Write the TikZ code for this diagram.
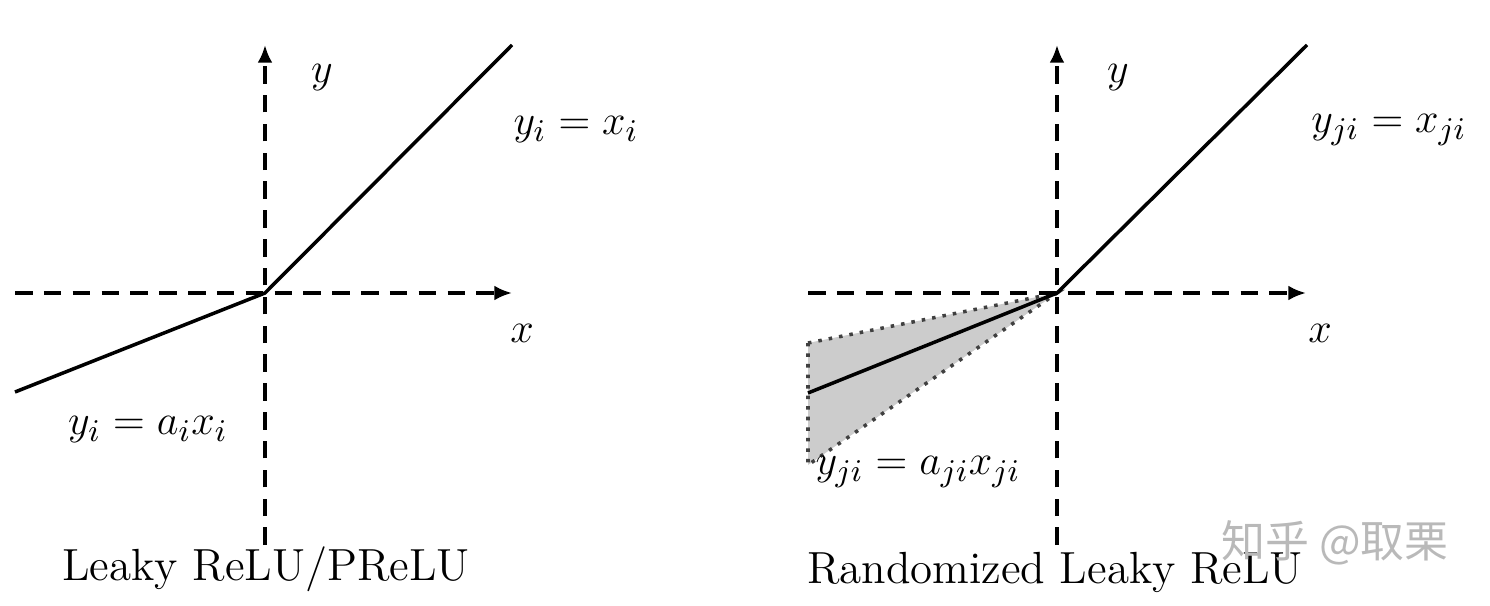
\documentclass[tikz,border=0pt]{standalone}
\usepackage{amsmath}
\usepackage{fontspec}
\newfontfamily\cjkfont{Noto Sans CJK SC}
\usetikzlibrary{arrows.meta}

\begin{document}
\begin{tikzpicture}[x=0.01cm, y=-0.01cm,
  axis/.style={line width=0.9pt, dash pattern=on 5pt off 3.2pt,
               -{Latex[length=5pt,width=4.2pt]}},
  curve/.style={line width=1pt},
  band/.style={fill=gray!40, draw=black!75, dotted, line width=1pt},
  lbl/.style={font=\fontsize{12.5}{15}\selectfont, inner sep=0pt},
  capt/.style={font=\fontsize{12.8}{15}\selectfont, inner sep=0pt},
  wm/.style={font=\cjkfont\fontsize{12.5}{15}\selectfont, gray!55, inner sep=0pt}
]
\useasboundingbox (0,0) rectangle (1490,606);
% ---------------- Leaky ReLU / PReLU ----------------
\coordinate (o1) at (265,293);
\coordinate (xl1) at (15,293);
\coordinate (xr1) at (512,293);
\coordinate (yb1) at (265,545);
\coordinate (yt1) at (265,45);
\coordinate (neg1) at (15,392);
\coordinate (pos1) at (512,45);
\draw[axis] (xl1) -- (xr1);
\draw[axis] (yb1) -- (yt1);
\draw[curve] (neg1) -- (o1) -- (pos1);
\node[lbl] (ylab1) at (322,78) {$y$};
\node[lbl] (xlab1) at (522,333) {$x$};
\node[lbl] (pfun1) at (576,130) {$y_i = x_i$};
\node[lbl] (nfun1) at (148,430) {$y_i = a_i x_i$};
\node[capt] (cap1) at (266,569) {Leaky ReLU/PReLU};
% ---------------- Randomized Leaky ReLU ----------------
\coordinate (o2) at (1057,293);
\coordinate (xl2) at (808,293);
\coordinate (xr2) at (1306,293);
\coordinate (yb2) at (1057,545);
\coordinate (yt2) at (1057,45);
\coordinate (bhi) at (808,343);
\coordinate (blo) at (808,465);
\coordinate (neg2) at (808,393);
\coordinate (pos2) at (1307,45);
\draw[band] (bhi) -- (o2) -- (blo) -- cycle;
\draw[axis] (xl2) -- (xr2);
\draw[axis] (yb2) -- (yt2);
\draw[curve] (neg2) -- (o2) -- (pos2);
\node[lbl] (ylab2) at (1118,78) {$y$};
\node[lbl] (xlab2) at (1320,333) {$x$};
\node[lbl] (pfun2) at (1389,130) {$y_{ji} = x_{ji}$};
\node[lbl] (nfun2) at (918,472) {$y_{ji} = a_{ji} x_{ji}$};
\node[capt] (cap2) at (1055,572) {Randomized Leaky ReLU};
% watermark
\node[wm] (mark) at (1335,543) {知乎 @取栗};
\end{tikzpicture}
\end{document}
